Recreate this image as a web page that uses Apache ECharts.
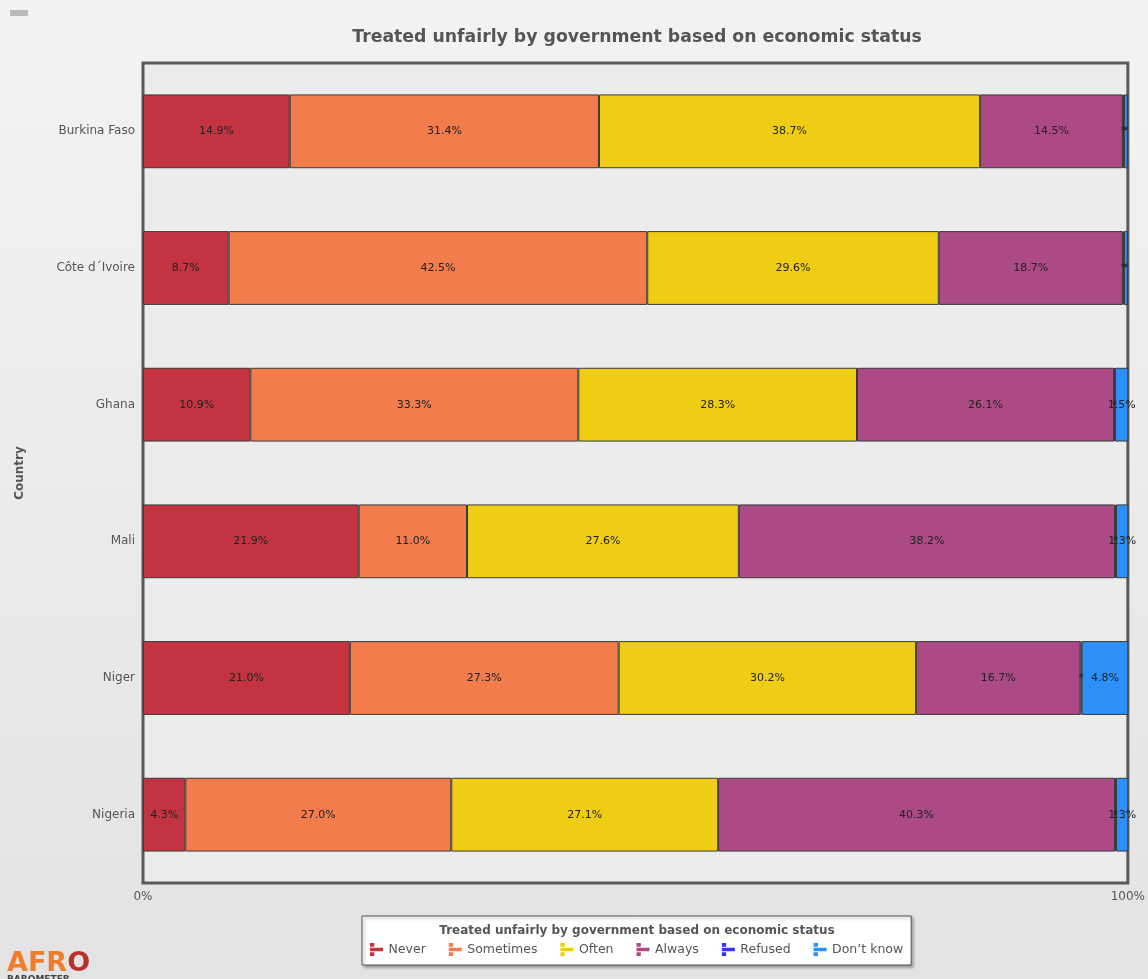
<!DOCTYPE html>
<html>
<head>
<meta charset="utf-8">
<title>Treated unfairly by government based on economic status</title>
<script src="https://cdn.jsdelivr.net/npm/echarts@6/dist/echarts.min.js"></script>
<style>
  html, body { margin: 0; padding: 0; background: #eee; }
  #chart { width: 1148px; height: 979px; }
</style>
</head>
<body>
<div id="chart"></div>
<script>
// Survey question and response categories
const chartTitle = 'Treated unfairly by government based on economic status';
const countries = ['Burkina Faso', 'Côte d´Ivoire', 'Ghana', 'Mali', 'Niger', 'Nigeria'];
const responses = ['Never', 'Sometimes', 'Often', 'Always', 'Refused', 'Don’t know'];

// Percentages per response, one entry per country (same order as countries)
const never     = [14.9, 8.7, 10.9, 21.9, 21.0, 4.3];
const sometimes = [31.4, 42.5, 33.3, 11.0, 27.3, 27.0];
const often     = [38.7, 29.6, 28.3, 27.6, 30.2, 27.1];
const always    = [14.5, 18.7, 26.1, 38.2, 16.7, 40.3];
const refused   = [0.1, 0.1, 0.1, 0.1, 0.1, 0.1];
const dontKnow  = [0.4, 0.4, 1.5, 1.3, 4.8, 1.3];

const xTicks = [0, 100];

const seriesValues = [never, sometimes, often, always, refused, dontKnow];
const colors = ['#c33440', '#f27c4b', '#efcd15', '#ab4a85', '#3535ee', '#2d8ff8'];

// small horizontal-bar glyph used as legend marker
const legendIcon = 'path://M0,0h4v3.4h-4z M0,4.3h12v3.4h-12z M0,8.6h4v3.4h-4z';

const chart = echarts.init(document.getElementById('chart'), null, { renderer: 'canvas' });

const series = responses.map((name, i) => ({
  name: name,
  type: 'bar',
  stack: 'total',
  barCategoryGap: '46%',
  data: seriesValues[i],
  itemStyle: { color: colors[i], borderColor: '#3a3a3a', borderWidth: 1 },
  label: {
    show: true,
    position: 'inside',
    color: '#222',
    fontSize: 11,
    fontFamily: 'DejaVu Sans',
    formatter: p => (p.value < 0.5 ? '*' : p.value.toFixed(1) + '%')
  },
  emphasis: { disabled: true }
}));

chart.setOption({
  animation: false,
  backgroundColor: {
    type: 'linear', x: 0, y: 0, x2: 0, y2: 1,
    colorStops: [{ offset: 0, color: '#f3f3f3' }, { offset: 1, color: '#e3e3e3' }]
  },
  textStyle: { fontFamily: 'DejaVu Sans' },
  grid: {
    left: 143, right: 16, top: 63, bottom: 96,
    show: true,
    backgroundColor: '#ececec',
    borderColor: '#5a5a5a',
    borderWidth: 3
  },
  xAxis: {
    type: 'value',
    min: xTicks[0],
    max: xTicks[1],
    interval: 100,
    axisLine: { show: false },
    axisTick: { show: false },
    splitLine: { show: false },
    axisLabel: { color: '#555', fontSize: 12, margin: 8, formatter: '{value}%' }
  },
  yAxis: {
    type: 'category',
    data: countries,
    inverse: true,
    axisLine: { show: false },
    axisTick: { show: false },
    axisLabel: { color: '#555', fontSize: 12, margin: 8 },
    name: 'Country',
    nameLocation: 'middle',
    nameRotate: 90,
    nameGap: 117,
    nameTextStyle: { color: '#555', fontSize: 12, fontWeight: 'bold' }
  },
  legend: {
    data: responses,
    left: 362,
    bottom: 14,
    icon: legendIcon,
    itemWidth: 14,
    itemHeight: 13,
    itemGap: 23,
    padding: [27, 8, 9, 8],
    itemStyle: { borderWidth: 0 },
    backgroundColor: '#fff',
    borderColor: '#555',
    borderWidth: 1,
    shadowColor: 'rgba(0,0,0,0.35)',
    shadowBlur: 3,
    shadowOffsetX: 2,
    shadowOffsetY: 2,
    textStyle: { color: '#555', fontSize: 12.5 },
    selectedMode: false
  },
  graphic: [
    {
      type: 'rect',
      left: 10, top: 10,
      shape: { width: 18, height: 6 },
      style: { fill: '#bbb' }
    },
    {
      type: 'text',
      x: 637, y: 38,
      style: {
        text: chartTitle,
        align: 'center',
        verticalAlign: 'middle',
        fill: '#555',
        font: 'bold 17.3px "DejaVu Sans"'
      }
    },
    {
      type: 'text',
      x: 637, y: 931,
      z: 100,
      style: {
        text: chartTitle,
        align: 'center',
        verticalAlign: 'middle',
        fill: '#555',
        font: 'bold 12px "DejaVu Sans"'
      }
    },
    {
      type: 'text',
      left: 7, top: 950,
      style: {
        text: '{a|AFR}{b|O}',
        rich: {
          a: { fill: '#ef7d2c', font: 'bold 27px "DejaVu Sans"' },
          b: { fill: '#b8322c', font: 'bold 27px "DejaVu Sans"' }
        }
      }
    },
    {
      type: 'text',
      left: 7, top: 975,
      style: { text: 'BAROMETER', fill: '#444', font: 'bold 9px "DejaVu Sans"' }
    }
  ],
  series: series
});
</script>
</body>
</html>
